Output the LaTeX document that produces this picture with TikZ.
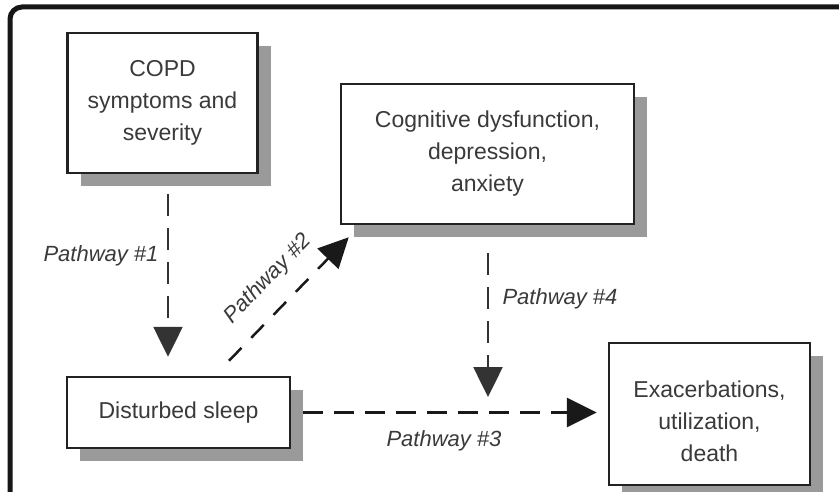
\documentclass[tikz,border=0pt]{standalone}
\usepackage{fontspec}
\setmainfont{Liberation Sans}
\usetikzlibrary{arrows.meta,shadows,calc}
\definecolor{framec}{HTML}{161616}
\definecolor{boxc}{HTML}{222222}
\definecolor{shadowc}{HTML}{9A9A9A}
\definecolor{textc}{HTML}{3A3A3A}
\begin{document}
\begin{tikzpicture}[x=1pt,y=-1pt,
  box/.style={draw=boxc,line width=2.5pt,fill=white,align=center,text=textc,
    font=\fontsize{23}{32}\selectfont,inner sep=0pt,
    drop shadow={shadow xshift=13pt,shadow yshift=-13pt,fill=shadowc,opacity=1}},
  boxtext/.style={text=textc,align=center,font=\fontsize{23}{32}\selectfont,inner sep=0pt},
  pathlbl/.style={text=textc,font=\fontsize{22}{26}\selectfont\itshape,inner sep=0pt},
  dasharrow/.style={draw=black!90,line width=3pt,dash pattern=on 20pt off 11pt,
    -{Triangle[length=30pt,width=29pt]}},
  vdasharrow/.style={dasharrow,draw=black!80,line width=2.6pt,dash pattern=on 22pt off 12pt},
  ddasharrow/.style={dasharrow,line width=2.5pt,dash pattern=on 18pt off 14pt}]
\useasboundingbox (0,0) rectangle (839,492);
\fill[white] (0,0) rectangle (839,492);
\draw[framec,line width=5pt,rounded corners=12pt] (10,500) -- (10,7) -- (850,7);

\node[box,minimum width=190pt,minimum height=140pt] (copd) at (162.5,103) {COPD\\symptoms and\\severity};
\node[box,minimum width=293pt,minimum height=140pt] (cog) at (487.5,154) {Cognitive dysfunction,\\depression,\\anxiety};
\node[box,minimum width=223pt,minimum height=71pt] (sleep) at (178.5,412.5) {Disturbed sleep};
\node[box,minimum width=201pt,minimum height=142pt] (exac) at (709.5,414) {};
\node[boxtext] (exactext) at (709.5,421.5) {Exacerbations,\\utilization,\\death};

\coordinate (p4end) at (488,397);
\draw[vdasharrow] ([xshift=5.5pt,yshift=-20pt]copd.south) -- ([xshift=-10.5pt,yshift=19pt]sleep.north);
\draw[ddasharrow] ([xshift=50.5pt,yshift=15pt]sleep.north) -- ([xshift=9pt,yshift=-12pt]cog.south west);
\draw[vdasharrow] ([xshift=0.5pt,yshift=-28pt]cog.south) -- (p4end);
\draw[dasharrow] ([xshift=12pt]sleep.east) -- ($(sleep.east -| exac.west)+(-11,0)$);

\node[pathlbl] (l1) at (101,256) {Pathway \#1};
\node[pathlbl,rotate=46] (l2) at (268,279) {Pathway \#2};
\node[pathlbl] (l4) at (560,299) {Pathway \#4};
\node[pathlbl] (l3) at (444,441) {Pathway \#3};
\end{tikzpicture}
\end{document}
